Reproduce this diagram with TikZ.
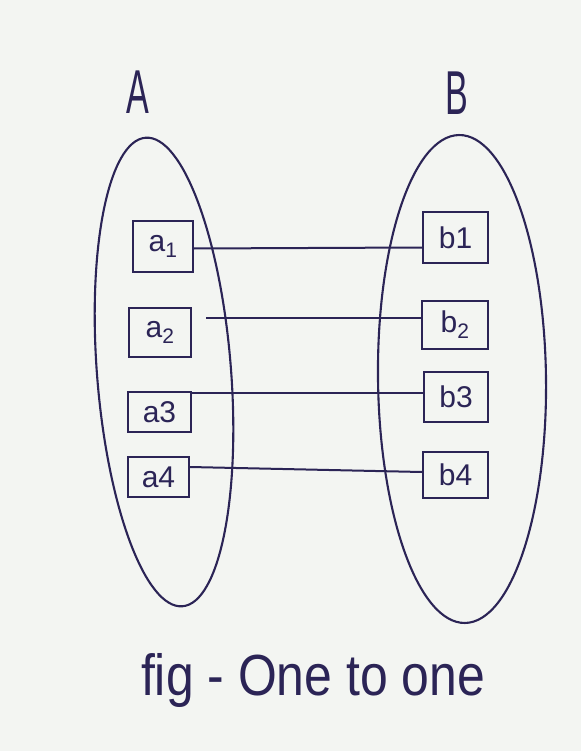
\documentclass[tikz,border=0pt]{standalone}
\usepackage{fontspec}
\setmainfont{Liberation Sans}
\definecolor{inkc}{HTML}{2B2456}
\definecolor{paper}{HTML}{F3F5F2}
\begin{document}
\begin{tikzpicture}[x=1pt,y=-1pt,
  outline/.style={draw=inkc, line width=2.1pt},
  elem/.style={draw=inkc, line width=2pt, inner sep=0pt, text=inkc,
    font=\fontsize{30}{30}\selectfont, minimum width=63pt, minimum height=46pt},
  link/.style={draw=inkc, line width=2pt},
  setlabel/.style={text=inkc, font=\fontsize{62}{62}\selectfont, xscale=0.55},
  caption/.style={text=inkc, font=\fontsize{58}{58}\selectfont, xscale=0.86}]

% page
\fill[paper] (0,0) rectangle (581,751);
\useasboundingbox (0,0) rectangle (581,751);

% set names
\node[setlabel] (setA) at (138,92) {A};
\node[setlabel] (setB) at (457,93) {B};

% set outlines
\draw[outline, rotate around={4.5:(164,372)}] (164,372) ellipse [x radius=67, y radius=235];
\draw[outline, rotate around={0.7:(462,379)}] (462,379) ellipse [x radius=84, y radius=244];

% elements of A
\node[elem, minimum width=60pt, minimum height=51pt] (a1) at (163,246.5) {a\textsubscript{1}};
\node[elem, minimum width=62pt, minimum height=49pt] (a2) at (160,332.5) {a\textsubscript{2}};
\node[elem, minimum width=63pt, minimum height=40pt] (a3) at (159.5,412) {a3};
\node[elem, minimum width=61pt, minimum height=40pt] (a4) at (158.5,477) {a4};

% elements of B
\node[elem, minimum width=65pt, minimum height=51pt] (b1) at (455.5,237.5) {b1};
\node[elem, minimum width=66pt, minimum height=48pt] (b2) at (455,325) {b\textsubscript{2}};
\node[elem, minimum width=64pt, minimum height=50pt] (b3) at (456,397) {b3};
\node[elem, minimum width=65pt, minimum height=46pt] (b4) at (455.5,475) {b4};

% line ends that sit off the box centres
\coordinate (a1out) at ([yshift=-2pt]a1.east);
\coordinate (b1in) at ([yshift=-10pt]b1.west);
\coordinate (a2out) at ([xshift=14pt]a2.east);
\coordinate (b2in) at ([yshift=7pt]b2.west);
\coordinate (b3in) at ([yshift=4pt]b3.west);
\coordinate (a4out) at ([yshift=10pt]a4.east);
\coordinate (b4in) at ([yshift=3pt]b4.west);

% mapping
\draw[link] (a1out) -- (b1in);
\draw[link] (a2out |- b2in) -- (b2in);
\draw[link] (a3.east |- b3in) -- (b3in);
\draw[link] (a4out) -- (b4in);

% caption
\node[caption, anchor=base] (cap) at (313,695) {fig - One to one};
\end{tikzpicture}
\end{document}
